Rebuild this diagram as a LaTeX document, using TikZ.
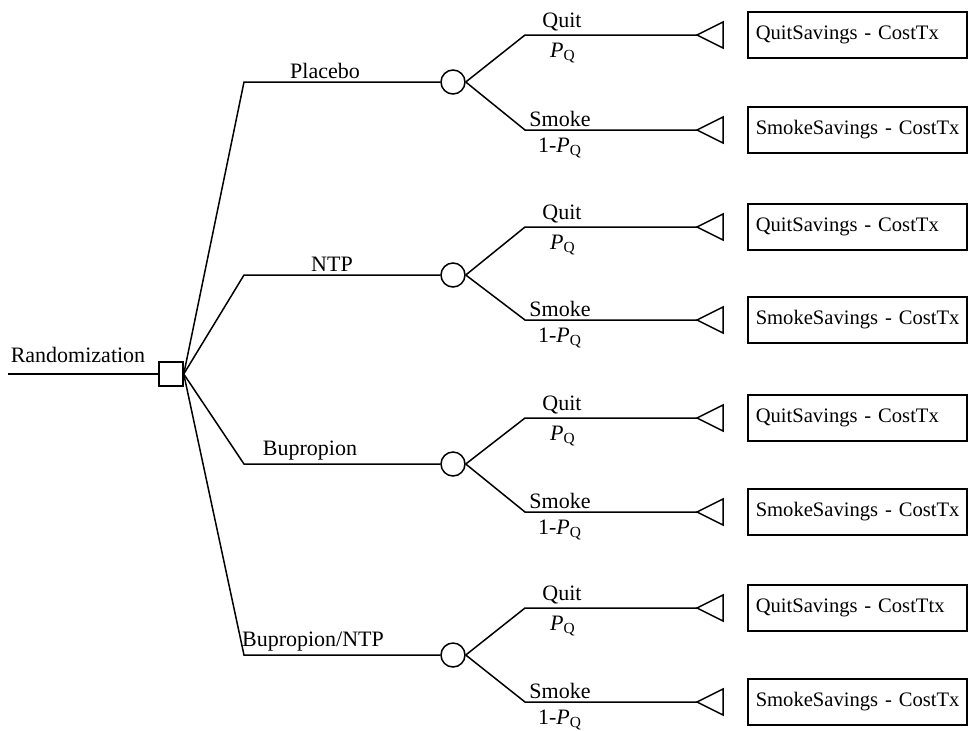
\documentclass[tikz,border=0pt]{standalone}
\usepackage{fontspec}
\setmainfont{Liberation Serif}
\begin{document}
\begin{tikzpicture}[x=0.5pt,y=-0.5pt,line width=0.75pt,
  dec/.style={draw,rectangle,minimum size=12pt,inner sep=0pt},
  chance/.style={draw,circle,minimum size=12pt,inner sep=0pt},
  payoff/.style={draw,rectangle,anchor=west,minimum height=23pt,text width=101.5pt,
     inner xsep=4pt,align=left,font=\fontsize{10.3}{12.5}\selectfont},
  lbl/.style={font=\fontsize{11}{13}\selectfont,inner sep=1.5pt},
  lblb/.style={font=\fontsize{11}{13}\selectfont,inner sep=3.5pt}]
\useasboundingbox (0,0) rectangle (969,730);
\node[dec] (D) at (171,374) {};
\coordinate (start) at (8,374);
\draw (start) -- (D);
\node[lbl,anchor=base] (rlab) at (78,362) {Randomization};
\foreach \n/\by/\qy/\sy/\lab/\lx/\qt in {
  1/82/35/130/Placebo/325/QuitSavings - CostTx,
  2/275/227/320/NTP/332/QuitSavings - CostTx,
  3/464/418/512/Bupropion/310/QuitSavings - CostTx,
  4/655/608/702/{Bupropion/NTP}/313/QuitSavings - CostTtx}{
  \coordinate (b\n) at (244,\by);
  \node[chance] (c\n) at (453,\by) {};
  \draw (D.east) -- (b\n) -- (c\n);
  \node[lbl,above] (al\n) at (\lx,\by) {\lab};
  \coordinate (q\n) at (525,\qy);
  \coordinate (s\n) at (525,\sy);
  \coordinate (tq\n) at (697,\qy);
  \coordinate (ts\n) at (697,\sy);
  \draw (c\n.east) -- (q\n) -- (tq\n);
  \draw (c\n.east) -- (s\n) -- (ts\n);
  \draw (tq\n) -- ++(26,-13) -- ++(0,26) -- cycle;
  \draw (ts\n) -- ++(26,-13) -- ++(0,26) -- cycle;
  \node[lbl,above] (ql\n) at (562,\qy) {Quit};
  \node[lblb,below] (qp\n) at (563,\qy) {\textit{P}\textsubscript{Q}};
  \node[lbl,above] (sl\n) at (560,\sy) {Smoke};
  \node[lblb,below] (sp\n) at (560,\sy) {1-\textit{P}\textsubscript{Q}};
  \node[payoff] (pq\n) at (747,\qy) {\mbox{\qt}};
  \node[payoff] (ps\n) at (747,\sy) {\mbox{SmokeSavings - CostTx}};
}
\end{tikzpicture}
\end{document}
